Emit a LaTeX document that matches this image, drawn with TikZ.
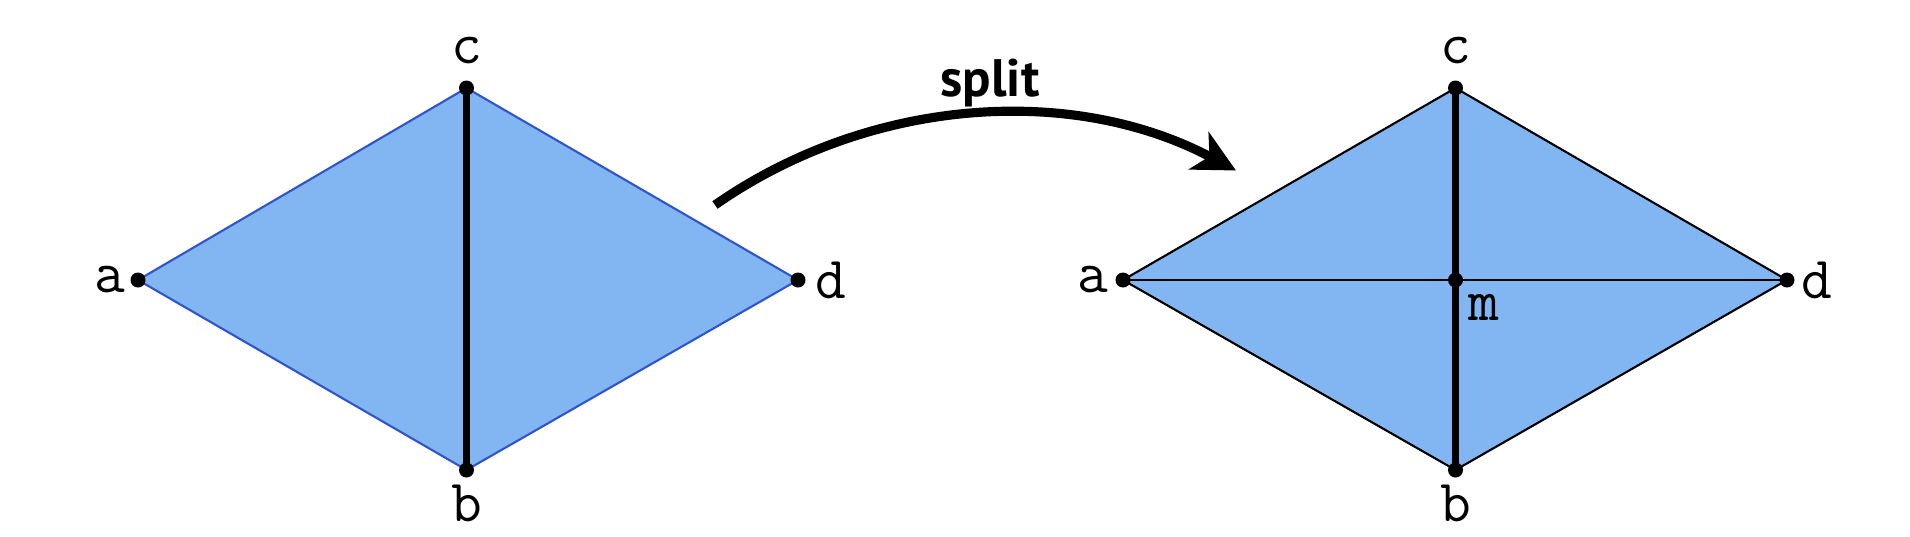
\documentclass[tikz,border=0pt]{standalone}
\usepackage{fontspec}
\newfontfamily\splitfont{PT Sans}
\usetikzlibrary{arrows.meta}
\definecolor{facefill}{RGB}{130,182,242}
\definecolor{edgeblue}{RGB}{48,84,204}
\tikzset{
  vtx/.style={circle,fill=black,inner sep=0pt,minimum size=1.5mm},
  lbl/.style={font=\ttfamily\fontsize{17}{17}\selectfont,inner sep=0pt},
}
\begin{document}
\begin{tikzpicture}
	\useasboundingbox (0,0) rectangle (19.10,5.36);
	% before the split
	\coordinate (a1) at (1.38,2.56);
	\coordinate (c1) at (4.665,4.48);
	\coordinate (b1) at (4.665,0.66);
	\coordinate (d1) at (7.98,2.56);
	\filldraw[fill=facefill,draw=edgeblue,line width=0.6pt] (a1) -- (c1) -- (d1) -- (b1) -- cycle;
	\draw[line width=1.9pt] (c1) -- (b1);
	\foreach \v in {a1,b1,c1,d1}
		\node[vtx] (dot\v) at (\v) {};
	\node[lbl] (la1) at (1.10,2.56) {a};
	\node[lbl] (lc1) at (4.665,4.85) {c};
	\node[lbl] (lb1) at (4.665,0.33) {b};
	\node[lbl] (ld1) at (8.31,2.56) {d};
	
	% after the split
	\coordinate (a2) at (11.23,2.56);
	\coordinate (c2) at (14.555,4.48);
	\coordinate (b2) at (14.555,0.66);
	\coordinate (d2) at (17.87,2.56);
	\coordinate (m2) at (14.555,2.56);
	\filldraw[fill=facefill,draw=black,line width=0.6pt] (a2) -- (c2) -- (d2) -- (b2) -- cycle;
	\draw[line width=0.6pt] (a2) -- (d2);
	\draw[line width=1.9pt] (c2) -- (b2);
	\foreach \v in {a2,b2,c2,d2,m2}
		\node[vtx] (dot\v) at (\v) {};
	\node[lbl] (la2) at (10.93,2.56) {a};
	\node[lbl] (lc2) at (14.555,4.85) {c};
	\node[lbl] (lb2) at (14.555,0.33) {b};
	\node[lbl] (ld2) at (18.17,2.56) {d};
	\node[lbl] (lm2) at (14.84,2.29) {m};
	
	% arrow
	\coordinate (s1) at (7.15,3.31);
	\coordinate (s2) at (12.36,3.655);
	\draw[line width=2.6pt,-{Stealth[length=4.2mm,width=4.2mm,inset=1.2mm]}] (s1) .. controls (8.68,4.38) and (10.71,4.53) .. (s2);
	\node[font=\splitfont\bfseries\fontsize{15}{15}\selectfont] (split) at (9.90,4.53) {split};
\end{tikzpicture}
\end{document}
